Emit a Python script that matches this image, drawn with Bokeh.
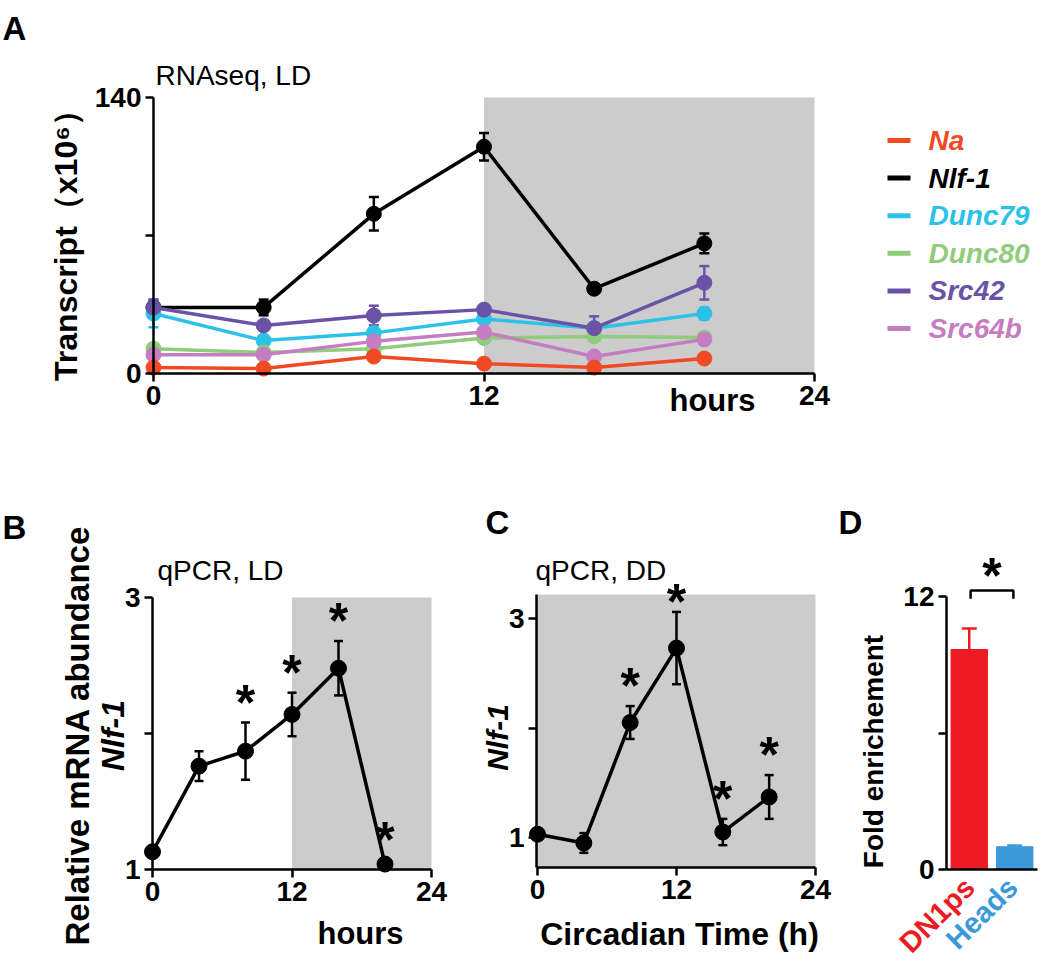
from bokeh.plotting import figure
from bokeh.models import (Range1d, FixedTicker, BoxAnnotation, Label, Whisker,
                          TeeHead, ColumnDataSource)
from bokeh.layouts import row, column
from bokeh.embed import file_html
from bokeh.resources import INLINE
from bokeh.core.properties import value
import math

FONT = "Liberation Sans"
GREY = "#CDCCCD"

# ---------------- Panel A data (RNAseq, LD) ----------------
hours_A = [0, 4, 8, 12, 16, 20]
gene_names = ["Na", "Nlf-1", "Dunc79", "Dunc80", "Src42", "Src64b"]
gene_colors = ["#F04A24", "#000000", "#2CC2E8", "#8FCC7C", "#6A52A6", "#C57CC0"]
na_mean = [3, 2.5, 8.6, 5, 3, 7.6]
na_err = [1, 1, 2, 1, 1, 2]
nlf1_mean = [33.5, 33.5, 81, 115, 43, 66]
nlf1_err = [3, 4, 8.5, 7, 1.5, 5]
dunc79_mean = [30.4, 16.7, 20.6, 27.7, 23, 30.4]
dunc79_err = [7, 2, 2, 2, 2, 3]
dunc80_mean = [12.6, 10.6, 12.6, 18, 18.8, 18.3]
dunc80_err = [2, 1, 1, 1, 1, 1]
src42_mean = [33.5, 24.4, 29.4, 32.4, 23, 46]
src42_err = [4, 2, 5, 2, 6, 8.5]
src64b_mean = [9.5, 9.5, 16.3, 21, 8.6, 17.3]
src64b_err = [1, 1, 2, 1, 1, 1]

# ---------------- Panel B data (qPCR, LD) ----------------
hours_B = [0, 4, 8, 12, 16, 20]
nlf1_LD = [1.13, 1.76, 1.87, 2.14, 2.48, 1.04]
nlf1_LD_err = [0.03, 0.11, 0.21, 0.16, 0.2, 0.03]
sig_LD = [False, False, True, True, True, True]

# ---------------- Panel C data (qPCR, DD) ----------------
ct_C = [0, 4, 8, 12, 16, 20]
nlf1_DD = [1.03, 0.95, 2.05, 2.73, 1.05, 1.37]
nlf1_DD_err = [0.04, 0.09, 0.15, 0.33, 0.12, 0.2]
sig_DD = [False, False, True, True, True, True]

# ---------------- Panel D data ----------------
tissues = ["DN1ps", "Heads"]
fold = [9.67, 1.0]
fold_err = [0.92, 0.05]
tissue_colors = ["#ED1C24", "#3A9AD9"]

GEOM = {}


def style_axes(p, size="28px"):
    for ax in p.axis:
        ax.axis_line_width = 2.5
        ax.axis_line_color = "black"
        ax.major_tick_line_width = 2.5
        ax.major_tick_line_color = "black"
        ax.major_tick_out = 8
        ax.major_tick_in = 0
        ax.minor_tick_line_color = None
        ax.major_label_text_font = FONT
        ax.major_label_text_font_size = size
        ax.major_label_text_font_style = "bold"
        ax.major_label_text_color = "black"
        ax.major_label_standoff = 4


def lin(p0, v0, p1, v1, p):
    return v0 + (p - p0) * (v1 - v0) / (p1 - p0)


def panel(left, top, w, h, xmap, ymap):
    """Figure whose frame is the whole canvas; xmap/ymap give two (pixel, value) pairs."""
    (xp0, xv0), (xp1, xv1) = xmap
    (yp0, yv0), (yp1, yv1) = ymap
    xr = Range1d(lin(xp0, xv0, xp1, xv1, left), lin(xp0, xv0, xp1, xv1, left + w))
    yr = Range1d(lin(yp0, yv0, yp1, yv1, top + h), lin(yp0, yv0, yp1, yv1, top))
    p = figure(width=w, height=h, x_range=xr, y_range=yr, output_backend="svg",
               toolbar_location=None, tools="", title=None, min_border=0)
    p.grid.visible = False
    p.outline_line_color = None
    p.background_fill_color = "white"
    p.border_fill_color = "white"
    style_axes(p)
    GEOM[p.id] = (left, top, h)
    return p


def add_label(p, text, rx, ry, size, style="bold", color="black", align="left",
              baseline="middle", angle=0.0):
    left, top, h = GEOM[p.id]
    p.add_layout(Label(x=rx - left, y=top + h - ry, x_units="screen", y_units="screen",
                       text=text, text_font=FONT, text_font_size=size,
                       text_font_style=style, text_color=color, text_align=align,
                       text_baseline=baseline, angle=angle))


def add_star(p, x, y, y_offset=20):
    p.add_layout(Label(x=x, y=y, text="*", text_font=FONT, text_font_size="50px",
                       text_font_style="bold", text_color="black", text_align="center",
                       text_baseline="alphabetic", y_offset=y_offset))


def add_series(p, xs, mean, err, color, size=15, lw=3.5, cap=10):
    src = ColumnDataSource(dict(x=xs, y=mean,
                                upper=[m + e for m, e in zip(mean, err)],
                                lower=[m - e for m, e in zip(mean, err)]))
    p.add_layout(Whisker(base="x", upper="upper", lower="lower", source=src,
                         dimension="height", line_color=color, line_width=2.5,
                         level="underlay",
                         upper_head=TeeHead(size=cap, line_color=color, line_width=2.5),
                         lower_head=TeeHead(size=cap, line_color=color, line_width=2.5)))
    p.line("x", "y", source=src, line_color=color, line_width=lw)
    p.scatter("x", "y", source=src, size=size, fill_color=color, line_color=color)


def fix_axes(p, x_at, y_at, xb, yb, xticks, yticks, ylabel_hide=None):
    p.xaxis.fixed_location = x_at
    p.yaxis.fixed_location = y_at
    p.xaxis.bounds = xb
    p.yaxis.bounds = yb
    p.xaxis.ticker = FixedTicker(ticks=xticks)
    p.yaxis.ticker = FixedTicker(ticks=yticks)
    if ylabel_hide is not None:
        p.yaxis.major_label_overrides = {ylabel_hide: ""}


# ================= Panel A =================
pA = panel(0, 0, 842, 470, ((153, 0), (814, 24)), ((373, 0), (97, 140)))
pA.add_layout(BoxAnnotation(left=12, right=24, bottom=0, top=140, fill_color=GREY,
                            fill_alpha=1, line_color=None, level="image"))
series_A = {
    "Na": (na_mean, na_err),
    "Nlf-1": (nlf1_mean, nlf1_err),
    "Dunc79": (dunc79_mean, dunc79_err),
    "Dunc80": (dunc80_mean, dunc80_err),
    "Src42": (src42_mean, src42_err),
    "Src64b": (src64b_mean, src64b_err),
}
for name in ["Nlf-1", "Dunc79", "Dunc80", "Src64b", "Src42", "Na"]:
    c = gene_colors[gene_names.index(name)]
    m, e = series_A[name]
    add_series(pA, hours_A, m, e, c)
fix_axes(pA, 0, 0, (0, 24), (0, 140), [0, 12, 24], [0, 70, 140], 70)
add_label(pA, "A", 2, 28, "33px", baseline="alphabetic")
add_label(pA, "RNAseq, LD", 155, 75, "28px", style="normal")
add_label(pA, "Transcript（x10⁶）", 65, 237, "32px", align="center", angle=math.pi / 2)
add_label(pA, "hours", 712, 400, "31px", align="center")

# legend panel (pixel-like coordinates, y pointing down)
pL = figure(width=204, height=470, x_range=Range1d(842, 1046), y_range=Range1d(470, 0),
            output_backend="svg", toolbar_location=None, tools="", title=None, min_border=0)
pL.axis.visible = False
pL.grid.visible = False
pL.outline_line_color = None
row_y = [140 + 37.6 * i for i in range(len(gene_names))]
n = len(gene_names)
legsrc = ColumnDataSource(dict(x0=[887] * n, x1=[910] * n, y=row_y, tx=[928] * n,
                               name=gene_names, color=gene_colors))
pL.segment(x0="x0", y0="y", x1="x1", y1="y", source=legsrc, line_color="color", line_width=5)
pL.text(x="tx", y="y", text="name", source=legsrc, text_color="color",
        text_font=value(FONT), text_font_size="28px", text_font_style="bold italic",
        text_baseline="middle", text_align="left")

# ================= Panel B =================
pB = panel(0, 470, 470, 490, ((152, 0), (431, 24)), ((869, 1), (597, 3)))
pB.add_layout(BoxAnnotation(left=12, right=24, bottom=1, top=3, fill_color=GREY,
                            fill_alpha=1, line_color=None, level="image"))
add_series(pB, hours_B, nlf1_LD, nlf1_LD_err, "black", size=16, lw=3.5, cap=9)
for t, m, e, s in zip(hours_B, nlf1_LD, nlf1_LD_err, sig_LD):
    if s:
        add_star(pB, t, m + e)
fix_axes(pB, 1, 0, (0, 24), (1, 3), [0, 12, 24], [1, 2, 3], 2)
add_label(pB, "B", 2, 527, "33px", baseline="alphabetic")
add_label(pB, "qPCR, LD", 157, 570, "28px", style="normal")
add_label(pB, "hours", 360, 933, "31px", align="center")
add_label(pB, "Nlf-1", 112, 735, "32px", style="bold italic", align="center", angle=math.pi / 2)
add_label(pB, "Relative mRNA abundance", 77, 735, "33px", align="center", angle=math.pi / 2)

# ================= Panel C =================
pC = panel(470, 470, 365, 490, ((537, 0), (815, 24)), ((837, 1), (618, 3)))
c_x0 = lin(537, 0, 815, 24, 536)
c_y0 = lin(837, 1, 618, 3, 867)
c_y1 = lin(837, 1, 618, 3, 594)
pC.add_layout(BoxAnnotation(left=c_x0, right=24, bottom=c_y0, top=c_y1, fill_color=GREY,
                            fill_alpha=1, line_color=None, level="image"))
add_series(pC, ct_C, nlf1_DD, nlf1_DD_err, "black", size=16, lw=3.5, cap=9)
for t, m, e, s in zip(ct_C, nlf1_DD, nlf1_DD_err, sig_DD):
    if s:
        add_star(pC, t, m + e, y_offset=10 if e > 0.3 else 20)
fix_axes(pC, c_y0, c_x0, (c_x0, 24), (c_y0, c_y1), [0, 12, 24], [1, 2, 3], 2)
add_label(pC, "C", 485, 522, "33px", baseline="alphabetic")
add_label(pC, "qPCR, DD", 535, 570, "28px", style="normal")
add_label(pC, "Nlf-1", 497, 737, "30px", style="bold italic", align="center", angle=math.pi / 2)
add_label(pC, "Circadian Time (h)", 679, 933, "32px", align="center")

# ================= Panel D =================
pD = panel(835, 470, 211, 490, ((946, 0), (1037, 2)), ((869, 0), (596, 12)))
bar_x = [i + 0.5 for i in range(len(tissues))]
dsrc = ColumnDataSource(dict(x=bar_x, top=fold, color=tissue_colors,
                             upper=[v + e for v, e in zip(fold, fold_err)]))
pD.vbar(x="x", top="top", width=0.8, source=dsrc, fill_color="color", line_color="color")
pD.add_layout(Whisker(base="x", upper="upper", lower="top", source=dsrc, dimension="height",
                      line_color="color", line_width=2.5, lower_head=None,
                      upper_head=TeeHead(size=15, line_color="color", line_width=2.5)))
bracket_y = 12.26
bracket_drop = 0.36
pD.line(x=[bar_x[0] + 0.03, bar_x[0] + 0.03, bar_x[1] - 0.03, bar_x[1] - 0.03],
        y=[bracket_y - bracket_drop, bracket_y, bracket_y, bracket_y - bracket_drop],
        line_color="black", line_width=2.5)
add_star(pD, (bar_x[0] + bar_x[1]) / 2, bracket_y, y_offset=15)
fix_axes(pD, 0, 0, (0, 2), (0, 12), [], [0, 6, 12], 6)
pD.xaxis.major_tick_line_color = None
add_label(pD, "D", 838, 522, "33px", baseline="alphabetic")
add_label(pD, "Fold enrichement", 873, 751, "28px", align="center", angle=math.pi / 2)
for name, col, ax_px in zip(tissues, tissue_colors, [969, 1012]):
    add_label(pD, name, ax_px, 882, "29px", color=col, align="right", angle=math.pi / 4)

layout = column(row(pA, pL), row(pB, pC, pD))
open("out.html", "w").write(file_html(layout, INLINE))
